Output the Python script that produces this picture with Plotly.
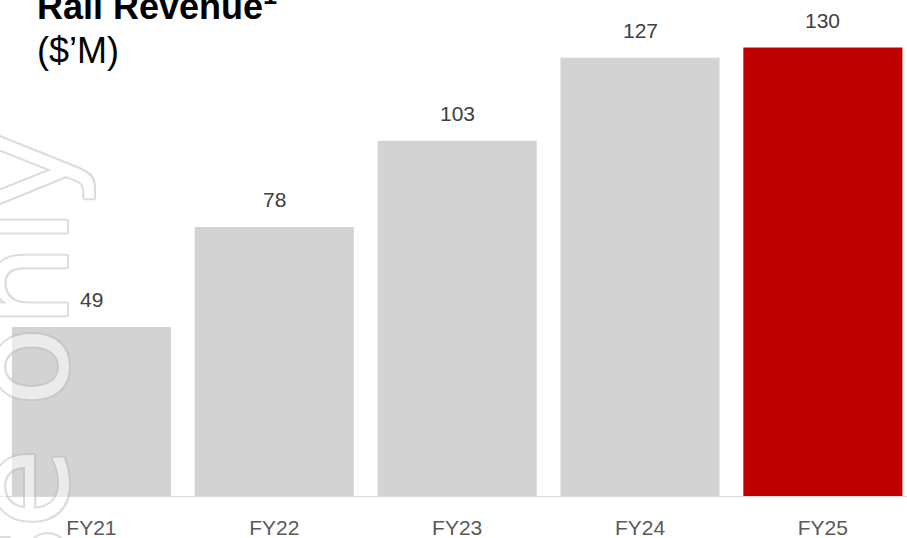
import plotly.graph_objects as go

categories = ["FY21", "FY22", "FY23", "FY24", "FY25"]
values = [49, 78, 103, 127, 130]
bar_colors = ["#d3d3d3", "#d3d3d3", "#d3d3d3", "#d3d3d3", "#c00000"]

W, H = 907, 538
MT, MB = 0, 42
PH = H - MT - MB


def py(ypx):
    return (H - MB - ypx) / PH


fig = go.Figure()
fig.add_trace(go.Bar(
    x=categories, y=values, marker=dict(color=bar_colors, line=dict(width=0)),
    width=0.87, hoverinfo="skip",
))

annotations = []
for c, v in zip(categories, values):
    annotations.append(dict(
        x=c, y=v, xref="x", yref="y", text=str(v), showarrow=False,
        yanchor="middle", yshift=27,
        font=dict(family="Liberation Sans, Arial", size=21, color="#404040"),
    ))

# watermark (outlined text)
ring = ", ".join(f"{dx}px {dy}px 0 #c0c0c0" for dx, dy in
                 [(2, 0), (-2, 0), (0, 2), (0, -2), (1.5, 1.5), (-1.5, 1.5), (1.5, -1.5), (-1.5, -1.5)])
annotations.append(dict(
    x=22 / W, y=py(405), xref="paper", yref="paper", text="use only", showarrow=False,
    textangle=-90, xanchor="center", yanchor="middle",
    font=dict(family="DejaVu Sans", size=130, color="white", shadow=ring),
    opacity=0.55,
))

annotations.append(dict(
    x=35 / W, y=py(4), xref="paper", yref="paper", xanchor="left", yanchor="middle",
    text="<b>Rail Revenue<sup>1</sup></b>", showarrow=False,
    font=dict(family="Liberation Sans, Arial", size=36, color="#000000"),
))
annotations.append(dict(
    x=35 / W, y=py(51), xref="paper", yref="paper", xanchor="left", yanchor="middle",
    text="($’M)", showarrow=False,
    font=dict(family="Liberation Sans, Arial", size=36, color="#000000"),
))

fig.update_layout(
    width=W, height=H,
    margin=dict(l=0, r=0, t=MT, b=MB, pad=0),
    paper_bgcolor="white", plot_bgcolor="white",
    showlegend=False,
    bargap=0.13,
    annotations=annotations,
    xaxis=dict(
        range=[-0.5, 4.46], showgrid=False, zeroline=False,
        showline=True, linecolor="#d9d9d9", linewidth=1,
        ticks="", tickfont=dict(family="Liberation Sans, Arial", size=21, color="#595959"),
        ticklabelstandoff=13,
    ),
    yaxis=dict(range=[0, PH / 3.45], visible=False, showgrid=False, zeroline=False),
)

fig.write_html("out.html")
